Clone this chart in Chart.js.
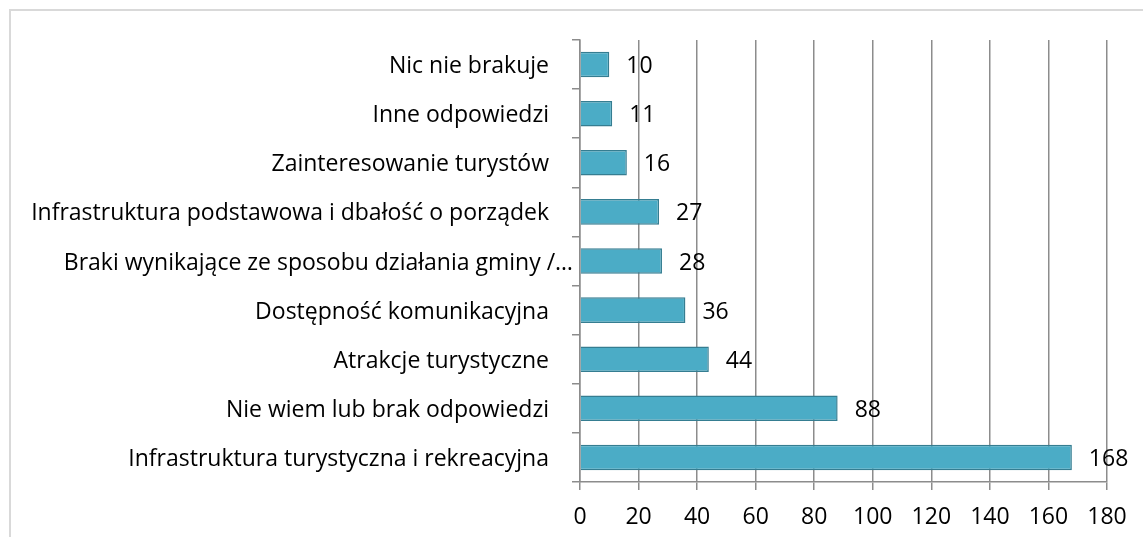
<!DOCTYPE html>
<html>
<head>
<meta charset="utf-8">
<script src="https://cdn.jsdelivr.net/npm/chart.js@4"></script>
<style>
  body { margin: 0; background: #fff; overflow: hidden; }
  #frame { position: absolute; left: 9px; top: 9px; width: 1200px; height: 600px; border: 2px solid #d9d9d9; }
  #chart { position: absolute; left: 0; top: 0; }
</style>
</head>
<body>
<div id="frame"></div>
<canvas id="chart" width="1143" height="537"></canvas>
<script>
// categories, top to bottom as in the picture
const categories = [
    'Nic nie brakuje',
    'Inne odpowiedzi',
    'Zainteresowanie turystów',
    'Infrastruktura podstawowa i dbałość o porządek',
    'Braki wynikające ze sposobu działania gminy /…',
    'Dostępność komunikacyjna',
    'Atrakcje turystyczne',
    'Nie wiem lub brak odpowiedzi',
    'Infrastruktura turystyczna i rekreacyjna'
];
const counts = [10, 11, 16, 27, 28, 36, 44, 88, 168];
const xTicks = [0, 20, 40, 60, 80, 100, 120, 140, 160, 180];

const fontFamily = '"Open Sans", Lato, sans-serif';
const fontSize = 23;
const gridColor = '#8c8c8c';

// category names on the left and values after each bar
const textLabels = {
    id: 'textLabels',
    afterDatasetsDraw(chart) {
        const ctx = chart.ctx;
        const meta = chart.getDatasetMeta(0);
        const yScale = chart.scales.y;
        ctx.save();
        ctx.font = fontSize + 'px ' + fontFamily;
        ctx.fillStyle = '#000';
        ctx.textBaseline = 'middle';
        // category names: right aligned, a truncated one runs a bit further like in Excel
        ctx.textAlign = 'right';
        categories.forEach((name, i) => {
            const right = name.endsWith('…') ? yScale.right - 7 : yScale.right - 31;
            ctx.fillText(name, right, yScale.getPixelForValue(i) + 2);
        });
        ctx.textAlign = 'left';
        meta.data.forEach((bar, i) => {
            ctx.fillText(String(counts[i]), bar.x + 17, bar.y + 2);
        });
        ctx.restore();
    }
};

new Chart(document.getElementById('chart'), {
    type: 'bar',
    data: {
        labels: categories,
        datasets: [{
            data: counts,
            backgroundColor: '#4bacc6',
            borderColor: '#357d91',
            borderWidth: 1.5,
            barPercentage: 0.52,
            categoryPercentage: 1
        }]
    },
    options: {
        indexAxis: 'y',
        responsive: false,
        animation: false,
        layout: { padding: { left: 10, right: 36, top: 40, bottom: 0 } },
        plugins: {
            legend: { display: false },
            tooltip: { enabled: false }
        },
        scales: {
            x: {
                min: 0,
                max: 180,
                afterBuildTicks(scale) {
                    scale.ticks = xTicks.map(v => ({ value: v }));
                },
                afterFit(scale) { scale.height = 55; },
                grid: { color: gridColor, lineWidth: 1.5, tickLength: 8, drawTicks: true },
                border: { color: gridColor, width: 1.5 },
                ticks: { color: '#000', padding: 14, font: { family: fontFamily, size: fontSize } }
            },
            y: {
                afterFit(scale) { scale.width = 570; },
                grid: { offset: true, drawOnChartArea: false, color: gridColor, lineWidth: 1.5, tickLength: 8 },
                border: { color: gridColor, width: 1.5 },
                ticks: { display: false }
            }
        }
    },
    plugins: [textLabels]
});
</script>
</body>
</html>
